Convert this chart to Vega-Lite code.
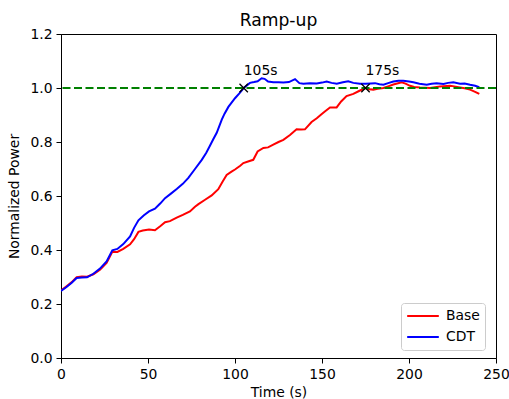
{
  "$schema": "https://vega.github.io/schema/vega-lite/v6.json",
  "width": 435,
  "height": 324,
  "autosize": {"type": "none"},
  "padding": {"left": 61, "top": 34, "right": 13, "bottom": 41},
  "background": "white",
  "config": {
    "font": "DejaVu Sans",
    "view": {"stroke": "black", "strokeWidth": 1},
    "axis": {
      "domainColor": "black", "tickColor": "black", "labelColor": "black", "titleColor": "black",
      "labelFont": "DejaVu Sans", "titleFont": "DejaVu Sans", "labelFontSize": 13.9, "titleFontSize": 13.9,
      "titleFontWeight": "normal", "tickSize": 5, "labelPadding": 4, "grid": false, "labelFlush": false
    }
  },
  "title": {"text": "Ramp-up", "fontSize": 17.2, "font": "DejaVu Sans", "fontWeight": "normal", "color": "black", "offset": -2},
  "datasets": {
    "series": [
      {"t":0,"v":0.25,"s":"Base"},{"t":3,"v":0.265,"s":"Base"},{"t":6,"v":0.28,"s":"Base"},{"t":9,"v":0.299,"s":"Base"},{"t":12,"v":0.302,"s":"Base"},{"t":15,"v":0.301,"s":"Base"},{"t":18.6,"v":0.31,"s":"Base"},{"t":22.4,"v":0.327,"s":"Base"},{"t":26.2,"v":0.352,"s":"Base"},{"t":29.5,"v":0.393,"s":"Base"},{"t":32.4,"v":0.393,"s":"Base"},{"t":35.8,"v":0.404,"s":"Base"},{"t":39.7,"v":0.421,"s":"Base"},{"t":42,"v":0.44,"s":"Base"},{"t":44.5,"v":0.467,"s":"Base"},{"t":47,"v":0.472,"s":"Base"},{"t":50.6,"v":0.476,"s":"Base"},{"t":54,"v":0.473,"s":"Base"},{"t":57,"v":0.488,"s":"Base"},{"t":59.8,"v":0.503,"s":"Base"},{"t":62.6,"v":0.507,"s":"Base"},{"t":66.5,"v":0.52,"s":"Base"},{"t":70,"v":0.53,"s":"Base"},{"t":74.1,"v":0.543,"s":"Base"},{"t":77,"v":0.56,"s":"Base"},{"t":79,"v":0.57,"s":"Base"},{"t":82.8,"v":0.586,"s":"Base"},{"t":86.6,"v":0.602,"s":"Base"},{"t":90.4,"v":0.625,"s":"Base"},{"t":93,"v":0.655,"s":"Base"},{"t":95.2,"v":0.678,"s":"Base"},{"t":98,"v":0.69,"s":"Base"},{"t":100,"v":0.698,"s":"Base"},{"t":103,"v":0.712,"s":"Base"},{"t":104.8,"v":0.722,"s":"Base"},{"t":107.5,"v":0.728,"s":"Base"},{"t":110.5,"v":0.734,"s":"Base"},{"t":113,"v":0.765,"s":"Base"},{"t":116.3,"v":0.778,"s":"Base"},{"t":119,"v":0.78,"s":"Base"},{"t":122,"v":0.79,"s":"Base"},{"t":125,"v":0.8,"s":"Base"},{"t":127.8,"v":0.808,"s":"Base"},{"t":131.6,"v":0.826,"s":"Base"},{"t":135.4,"v":0.847,"s":"Base"},{"t":138,"v":0.846,"s":"Base"},{"t":140.2,"v":0.847,"s":"Base"},{"t":144,"v":0.874,"s":"Base"},{"t":147,"v":0.888,"s":"Base"},{"t":149.7,"v":0.903,"s":"Base"},{"t":152,"v":0.915,"s":"Base"},{"t":154.6,"v":0.928,"s":"Base"},{"t":158.4,"v":0.928,"s":"Base"},{"t":161,"v":0.95,"s":"Base"},{"t":164.1,"v":0.97,"s":"Base"},{"t":168,"v":0.978,"s":"Base"},{"t":171,"v":0.988,"s":"Base"},{"t":174.7,"v":1.0,"s":"Base"},{"t":177,"v":0.995,"s":"Base"},{"t":179.5,"v":0.994,"s":"Base"},{"t":182,"v":0.997,"s":"Base"},{"t":185.3,"v":1.0,"s":"Base"},{"t":188,"v":1.006,"s":"Base"},{"t":191,"v":1.013,"s":"Base"},{"t":195.8,"v":1.021,"s":"Base"},{"t":198,"v":1.016,"s":"Base"},{"t":200.6,"v":1.008,"s":"Base"},{"t":203,"v":1.004,"s":"Base"},{"t":206.3,"v":1.002,"s":"Base"},{"t":212.1,"v":1.0,"s":"Base"},{"t":215,"v":1.003,"s":"Base"},{"t":217.8,"v":1.006,"s":"Base"},{"t":223.6,"v":1.008,"s":"Base"},{"t":226,"v":1.006,"s":"Base"},{"t":229.3,"v":1.002,"s":"Base"},{"t":232,"v":0.999,"s":"Base"},{"t":235.1,"v":0.994,"s":"Base"},{"t":238,"v":0.986,"s":"Base"},{"t":240.4,"v":0.978,"s":"Base"},
      {"t":0,"v":0.248,"s":"CDT"},{"t":3,"v":0.262,"s":"CDT"},{"t":6,"v":0.278,"s":"CDT"},{"t":9,"v":0.296,"s":"CDT"},{"t":12,"v":0.298,"s":"CDT"},{"t":15,"v":0.299,"s":"CDT"},{"t":18.6,"v":0.312,"s":"CDT"},{"t":22.4,"v":0.331,"s":"CDT"},{"t":26.2,"v":0.358,"s":"CDT"},{"t":29.5,"v":0.399,"s":"CDT"},{"t":32.4,"v":0.404,"s":"CDT"},{"t":35.8,"v":0.422,"s":"CDT"},{"t":39.7,"v":0.45,"s":"CDT"},{"t":42,"v":0.482,"s":"CDT"},{"t":44.5,"v":0.51,"s":"CDT"},{"t":47.5,"v":0.528,"s":"CDT"},{"t":50.6,"v":0.543,"s":"CDT"},{"t":54,"v":0.553,"s":"CDT"},{"t":57,"v":0.572,"s":"CDT"},{"t":59.8,"v":0.592,"s":"CDT"},{"t":63,"v":0.608,"s":"CDT"},{"t":66.5,"v":0.626,"s":"CDT"},{"t":70,"v":0.645,"s":"CDT"},{"t":73.2,"v":0.667,"s":"CDT"},{"t":77,"v":0.7,"s":"CDT"},{"t":80.9,"v":0.734,"s":"CDT"},{"t":83.5,"v":0.76,"s":"CDT"},{"t":85.6,"v":0.786,"s":"CDT"},{"t":87.5,"v":0.81,"s":"CDT"},{"t":89.5,"v":0.834,"s":"CDT"},{"t":92.4,"v":0.883,"s":"CDT"},{"t":94,"v":0.905,"s":"CDT"},{"t":96.2,"v":0.93,"s":"CDT"},{"t":100,"v":0.962,"s":"CDT"},{"t":102.5,"v":0.98,"s":"CDT"},{"t":105,"v":1.0,"s":"CDT"},{"t":108.6,"v":1.019,"s":"CDT"},{"t":111,"v":1.022,"s":"CDT"},{"t":113,"v":1.025,"s":"CDT"},{"t":115.3,"v":1.036,"s":"CDT"},{"t":117,"v":1.034,"s":"CDT"},{"t":119,"v":1.024,"s":"CDT"},{"t":122,"v":1.021,"s":"CDT"},{"t":125,"v":1.021,"s":"CDT"},{"t":127.8,"v":1.02,"s":"CDT"},{"t":131,"v":1.022,"s":"CDT"},{"t":134.5,"v":1.033,"s":"CDT"},{"t":137,"v":1.018,"s":"CDT"},{"t":139.3,"v":1.016,"s":"CDT"},{"t":143,"v":1.018,"s":"CDT"},{"t":147,"v":1.017,"s":"CDT"},{"t":150,"v":1.02,"s":"CDT"},{"t":152.7,"v":1.024,"s":"CDT"},{"t":155.5,"v":1.019,"s":"CDT"},{"t":158.5,"v":1.016,"s":"CDT"},{"t":162,"v":1.021,"s":"CDT"},{"t":165.1,"v":1.025,"s":"CDT"},{"t":168,"v":1.019,"s":"CDT"},{"t":171.8,"v":1.016,"s":"CDT"},{"t":175,"v":1.016,"s":"CDT"},{"t":178,"v":1.017,"s":"CDT"},{"t":180.5,"v":1.018,"s":"CDT"},{"t":183,"v":1.014,"s":"CDT"},{"t":185.3,"v":1.012,"s":"CDT"},{"t":188,"v":1.018,"s":"CDT"},{"t":191,"v":1.024,"s":"CDT"},{"t":194,"v":1.027,"s":"CDT"},{"t":196.7,"v":1.027,"s":"CDT"},{"t":200,"v":1.024,"s":"CDT"},{"t":202.5,"v":1.021,"s":"CDT"},{"t":206,"v":1.016,"s":"CDT"},{"t":210.2,"v":1.012,"s":"CDT"},{"t":213,"v":1.016,"s":"CDT"},{"t":215.9,"v":1.018,"s":"CDT"},{"t":219.8,"v":1.015,"s":"CDT"},{"t":222.5,"v":1.019,"s":"CDT"},{"t":225.5,"v":1.021,"s":"CDT"},{"t":229.3,"v":1.016,"s":"CDT"},{"t":232,"v":1.017,"s":"CDT"},{"t":235.1,"v":1.012,"s":"CDT"},{"t":238,"v":1.008,"s":"CDT"},{"t":240.4,"v":1.003,"s":"CDT"}
    ],
    "marks": [
      {"t": 105, "v": 1.0, "label": "105s"},
      {"t": 175, "v": 1.0, "label": "175s"}
    ],
    "ref": [{"v": 1.0}]
  },
  "layer": [
    {
      "data": {"name": "series"},
      "mark": {"type": "line", "strokeWidth": 2, "clip": true},
      "encoding": {
        "x": {"field": "t", "type": "quantitative", "scale": {"domain": [0, 250], "nice": false, "zero": false},
              "axis": {"values": [0, 50, 100, 150, 200, 250], "title": "Time (s)", "titlePadding": 5}},
        "y": {"field": "v", "type": "quantitative", "scale": {"domain": [0, 1.2], "nice": false},
              "axis": {"values": [0, 0.2, 0.4, 0.6, 0.8, 1.0, 1.2], "format": ".1f", "title": "Normalized Power", "titlePadding": 8}},
        "color": {"field": "s", "type": "nominal",
                  "scale": {"domain": ["Base", "CDT"], "range": ["#ff0000", "#0000ff"]},
                  "legend": {"orient": "none", "legendX": 340, "legendY": 269, "title": null,
                             "fillColor": "white", "strokeColor": "#cccccc", "cornerRadius": 3, "padding": 5,
                             "symbolType": "stroke", "symbolSize": 1000, "symbolStrokeWidth": 2, "clipHeight": 16,
                             "labelFontSize": 13.9, "labelFont": "DejaVu Sans", "labelColor": "black", "labelAlign": "left",
                             "labelOffset": 6, "rowPadding": 5}}
      }
    },
    {
      "data": {"name": "ref"},
      "mark": {"type": "rule", "color": "#008000", "strokeWidth": 2, "strokeDash": [8, 3.5]},
      "encoding": {"y": {"field": "v", "type": "quantitative"}}
    },
    {
      "data": {"name": "marks"},
      "mark": {"type": "point", "shape": "M-1,-1L1,1M1,-1L-1,1", "filled": false, "color": "black", "size": 70, "strokeWidth": 1.3, "opacity": 1},
      "encoding": {
        "x": {"field": "t", "type": "quantitative"},
        "y": {"field": "v", "type": "quantitative"}
      }
    },
    {
      "data": {"name": "marks"},
      "mark": {"type": "text", "align": "left", "baseline": "alphabetic", "fontSize": 13.9, "font": "DejaVu Sans", "color": "black", "dy": -13},
      "encoding": {
        "x": {"field": "t", "type": "quantitative"},
        "y": {"field": "v", "type": "quantitative"},
        "text": {"field": "label"}
      }
    }
  ]
}
